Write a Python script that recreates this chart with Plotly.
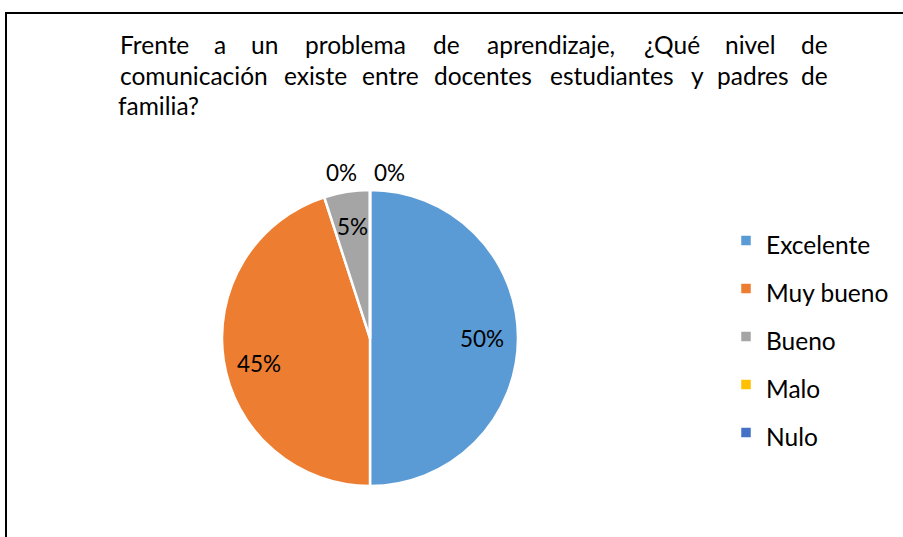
import math
import plotly.graph_objects as go

# ---- data ----
categories = ["Excelente", "Muy bueno", "Bueno", "Malo", "Nulo"]
values = [10, 9, 1, 0, 0]
colors = ["#5B9BD5", "#ED7D31", "#A5A5A5", "#FFC000", "#4472C4"]

title_lines = [
    ["Frente", "a", "un", "problema", "de", "aprendizaje,", "¿Qué", "nivel", "de"],
    ["comunicación", "existe", "entre", "docentes", "estudiantes", "y", "padres", "de"],
    ["familia?"],
]

W, H = 903, 537
FONT = "Lato, Carlito, Calibri, sans-serif"
FS = 24.5        # title / legend text
LFS = 22.5       # pie data labels

# word centre x positions (justified text) and line centres y, in pixels
word_x = [
    [154, 220.2, 264.6, 355.6, 446.3, 551.3, 671.7, 750.8, 814.5],
    [194.1, 315.3, 390.3, 483.4, 612, 697, 753, 814.2],
    [158],
]
line_y = [44.5, 75, 105.5]

# pie box in pixels
PX0, PX1, PY0, PY1 = 222, 518, 190, 486
CX, CY = (PX0 + PX1) / 2, (PY0 + PY1) / 2
R = (PX1 - PX0) / 2

fig = go.Figure()
fig.add_trace(go.Pie(
    labels=[f'<span style="font-size:{FS}px">{c}</span>' for c in categories],
    values=values,
    sort=False,
    direction="clockwise",
    rotation=0,
    marker=dict(colors=colors, line=dict(color="white", width=2.5)),
    textinfo="none",
    domain=dict(x=[PX0 / W, PX1 / W], y=[1 - PY1 / H, 1 - PY0 / H]),
    hoverinfo="percent",
))

annotations = []
for words, xs, y in zip(title_lines, word_x, line_y):
    for w, x in zip(words, xs):
        annotations.append(dict(
            text=w, x=x / W, y=1 - y / H, xref="paper", yref="paper",
            xanchor="center", yanchor="middle", showarrow=False,
            font=dict(family=FONT, size=FS, color="#000000"),
        ))

# data labels placed along each slice's mid angle (derived from the values)
total = sum(values)
cum = 0
zero_count = 0
for v in values:
    mid = (cum + v / 2) / total * 2 * math.pi
    cum += v
    pct = f"{round(100 * v / total)}%"
    if v > 0:
        r = 0.76 * R
        x = CX + r * math.sin(mid)
        y = CY - r * math.cos(mid)
        if v / total > 0.3 and math.cos(mid) < 0.2 and x < CX:
            y += 8
    else:
        r = R + 18
        x = CX + r * math.sin(mid) + zero_count * 48 - 28
        y = CY - r * math.cos(mid)
        zero_count += 1
    annotations.append(dict(
        text=pct, x=x / W, y=1 - y / H, xref="paper", yref="paper",
        xanchor="center", yanchor="middle", showarrow=False,
        font=dict(family=FONT, size=LFS, color="#000000"),
    ))

legend_fs = 34.6
fig.update_layout(
    width=W, height=H,
    margin=dict(l=0, r=0, t=0, b=0),
    paper_bgcolor="white",
    plot_bgcolor="white",
    annotations=annotations,
    showlegend=True,
    legend=dict(
        x=(766 - 40) / W, xanchor="left",
        y=1 - 336.5 / H, yanchor="middle",
        font=dict(family=FONT, size=legend_fs, color="#000000"),
        bgcolor="rgba(0,0,0,0)",
    ),
    shapes=[
        dict(type="line", xref="paper", yref="paper",
             x0=5 / W, x1=1, y0=1 - 13 / H, y1=1 - 13 / H,
             line=dict(color="black", width=2)),
        dict(type="line", xref="paper", yref="paper",
             x0=6 / W, x1=6 / W, y0=0, y1=1 - 13 / H,
             line=dict(color="black", width=2)),
    ],
)

fig.write_html(
    "out.html",
    config={"displayModeBar": False},
    post_script="document.body.style.margin='0px';",
)
